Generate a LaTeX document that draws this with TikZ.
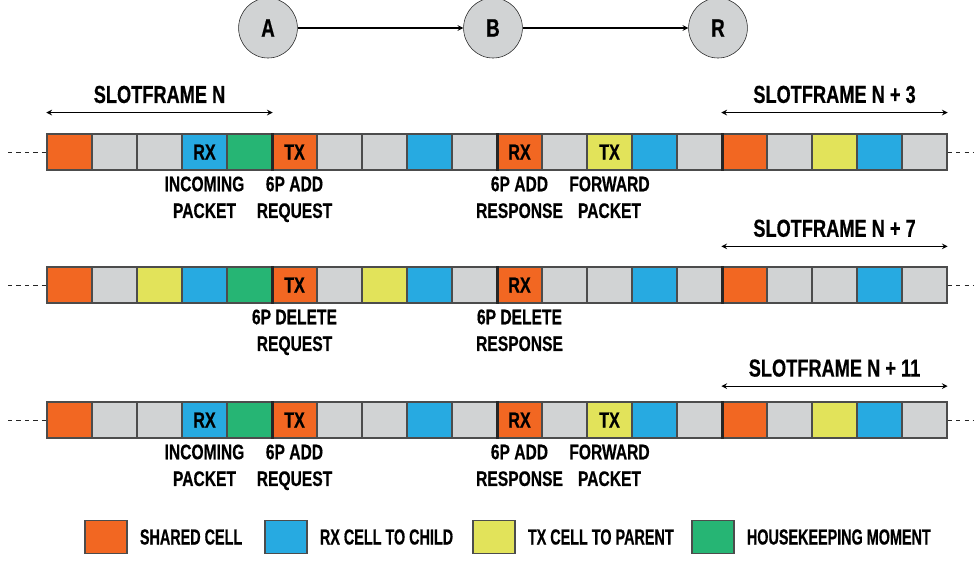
\documentclass[tikz,border=0pt]{standalone}
\usepackage{fontspec}
\setmainfont{Liberation Sans}[FakeStretch=0.74,BoldFeatures={FakeBold=0.5}]
\newfontfamily\keyfont{Liberation Sans}[FakeStretch=0.66,BoldFeatures={FakeBold=0.5}]
\usetikzlibrary{positioning,shapes.geometric}
\tikzset{>=stealth}
\definecolor{shared}{HTML}{F26722}
\definecolor{idle}{HTML}{D1D3D4}
\definecolor{child}{HTML}{27AAE1}
\definecolor{parent}{HTML}{E2E35A}
\definecolor{house}{HTML}{26B574}
\colorlet{penColor}{black!85}

\begin{document}
\begin{tikzpicture}[x=0.025cm,y=-0.025cm,
  mote/.style={ellipse,draw=penColor,fill=idle,minimum width=1.47cm,minimum height=1.5cm,inner sep=0pt,font=\bfseries\fontsize{18}{18}\selectfont},
  cell/.style={draw=black!70,line width=0.9pt,minimum width=1.125cm,minimum height=0.9cm,inner sep=0pt,font=\bfseries\fontsize{15.5}{15.5}\selectfont},
  note/.style={align=center,inner sep=0pt,font=\bfseries\fontsize{15}{19}\selectfont},
  frame/.style={inner sep=0pt,font=\bfseries\fontsize{17.5}{17.5}\selectfont},
  sep/.style={line width=2.2pt,penColor},
  key/.style={draw=black!70,line width=0.9pt,minimum width=1.05cm,minimum height=0.82cm,inner sep=0pt},
  keytext/.style={right=0.3cm,inner sep=0pt,font=\keyfont\bfseries\fontsize{15.5}{15.5}\selectfont},
  dots/.style={penColor,dash pattern=on 3pt off 3pt}]
\useasboundingbox (0,0) rectangle (974,561);
% motes
\node[mote] (A) at (268,28) {A};
\node[mote] (B) at (493,28) {B};
\node[mote] (R) at (718,28) {R};
\draw[->,thick] (A) -- (B);
\draw[->,thick] (B) -- (R);
% slotframes
\foreach \c/\t [count=\i] in {shared/,idle/,idle/,child/RX,house/,shared/TX,idle/,idle/,child/,idle/,
    shared/RX,idle/,parent/TX,child/,idle/,shared/,idle/,parent/,child/,idle/}
  \node[cell,fill=\c] (a\i) at (24.5+45*\i,152) {\t};
\foreach \c/\t [count=\i] in {shared/,idle/,parent/,child/,house/,shared/TX,idle/,parent/,child/,idle/,
    shared/RX,idle/,idle/,child/,idle/,shared/,idle/,idle/,child/,idle/}
  \node[cell,fill=\c] (b\i) at (24.5+45*\i,285) {\t};
\foreach \c/\t [count=\i] in {shared/,idle/,idle/,child/RX,house/,shared/TX,idle/,idle/,child/,idle/,
    shared/RX,idle/,parent/TX,child/,idle/,shared/,idle/,parent/,child/,idle/}
  \node[cell,fill=\c] (c\i) at (24.5+45*\i,420) {\t};
\foreach \r in {a,b,c}{
  \foreach \i in {5,10,15}
    \draw[sep] (\r\i.north east) -- (\r\i.south east);
}
% dashed ends
\coordinate (a0) at (8,152);  \coordinate (a21) at (974,152);
\coordinate (b0) at (8,285);  \coordinate (b21) at (974,285);
\coordinate (c0) at (8,420);  \coordinate (c21) at (974,420);
\draw[dots] (a0) -- (a1.west);  \draw[dots] (a20.east) -- (a21);
\draw[dots] (b0) -- (b1.west);  \draw[dots] (b20.east) -- (b21);
\draw[dots] (c0) -- (c1.west);  \draw[dots] (c20.east) -- (c21);
% slotframe arrows
\coordinate[above=0.52cm of a1.north west] (fa1);
\coordinate[above=0.52cm of a5.north east] (fa2);
\coordinate[above=0.52cm of a16.north west] (fa3);
\coordinate[above=0.52cm of a20.north east] (fa4);
\coordinate[above=0.5cm of b16.north west] (fb3);
\coordinate[above=0.5cm of b20.north east] (fb4);
\coordinate[above=0.38cm of c16.north west] (fc3);
\coordinate[above=0.38cm of c20.north east] (fc4);
\draw[<->,thick] (fa1) -- node[frame,above=0.22cm] (sfa) {SLOTFRAME N} (fa2);
\draw[<->,thick] (fa3) -- node[frame,above=0.22cm] (sfb) {SLOTFRAME N + 3} (fa4);
\draw[<->,thick] (fb3) -- node[frame,above=0.22cm] (sfc) {SLOTFRAME N + 7} (fb4);
\draw[<->,thick] (fc3) -- node[frame,above=0.22cm] (sfd) {SLOTFRAME N + 11} (fc4);
% notes
\node[note,below=0.14cm of a4] (na4) {INCOMING\\PACKET};
\node[note,below=0.14cm of a6] (na6) {6P ADD\\REQUEST};
\node[note,below=0.14cm of a11] (na11) {6P ADD\\RESPONSE};
\node[note,below=0.14cm of a13] (na13) {FORWARD\\PACKET};
\node[note,below=0.14cm of b6] (nb6) {6P DELETE\\REQUEST};
\node[note,below=0.14cm of b11] (nb11) {6P DELETE\\RESPONSE};
\node[note,below=0.14cm of c4] (nc4) {INCOMING\\PACKET};
\node[note,below=0.14cm of c6] (nc6) {6P ADD\\REQUEST};
\node[note,below=0.14cm of c11] (nc11) {6P ADD\\RESPONSE};
\node[note,below=0.14cm of c13] (nc13) {FORWARD\\PACKET};
% legend
\node[key,fill=shared] (k1) at (106,537) {};
\node[keytext] (t1) at (k1.east) {SHARED CELL};
\node[key,fill=child] (k2) at (286,537) {};
\node[keytext] (t2) at (k2.east) {RX CELL TO CHILD};
\node[key,fill=parent] (k3) at (494,537) {};
\node[keytext] (t3) at (k3.east) {TX CELL TO PARENT};
\node[key,fill=house] (k4) at (713,537) {};
\node[keytext] (t4) at (k4.east) {HOUSEKEEPING MOMENT};
\end{tikzpicture}
\end{document}
